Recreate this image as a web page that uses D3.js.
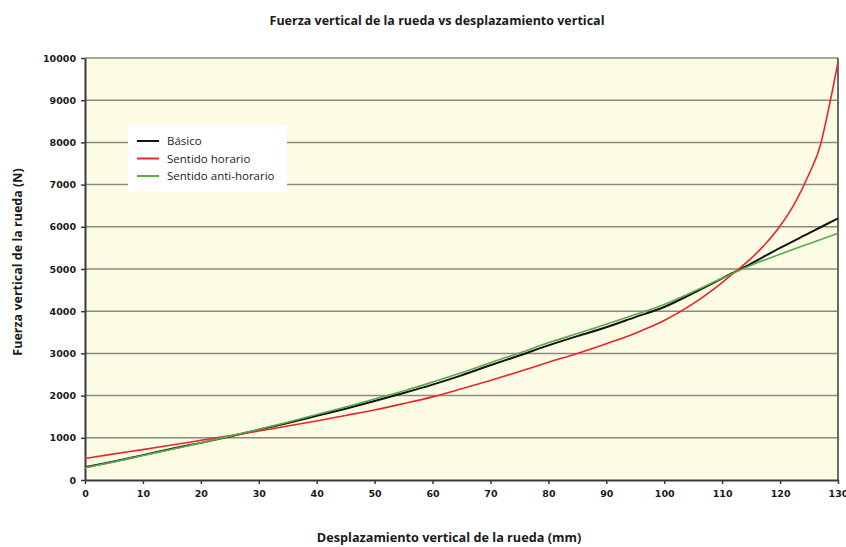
<!DOCTYPE html>
<html><head><meta charset="utf-8">
<script src="https://cdn.jsdelivr.net/npm/d3@7"></script>
<style>body{margin:0;background:#fff}</style>
</head><body>
<svg id="c" width="846" height="547"></svg>
<script>
const title = "Fuerza vertical de la rueda vs desplazamiento vertical";
const xTitle = "Desplazamiento vertical de la rueda (mm)";
const yTitle = "Fuerza vertical de la rueda (N)";
const xTicks = [0,10,20,30,40,50,60,70,80,90,100,110,120,130];
const yTicks = [0,1000,2000,3000,4000,5000,6000,7000,8000,9000,10000];
const seriesNames = ["Básico","Sentido horario","Sentido anti-horario"];
const seriesColors = ["#141414","#e8262a","#5aaa4a"];

const xBasico = [0,5,10,15,20,25,30,35,40,45,50,55,60,65,70,75,80,85,90,95,100,105,110,115,120,125,130];
const yBasico = [300,440,590,740,880,1030,1190,1350,1520,1690,1870,2060,2260,2480,2720,2950,3190,3410,3620,3860,4100,4430,4780,5130,5500,5850,6200];

const xHorario = [0,5,10,15,20,25,30,35,40,45,50,55,60,65,70,75,80,85,90,95,100,105,110,112.5,115,117.5,120,122.5,125,127,128,129,130];
const yHorario = [510,620,720,830,940,1050,1160,1280,1400,1530,1660,1810,1970,2160,2360,2570,2790,3000,3230,3480,3780,4180,4680,4960,5250,5600,6020,6550,7250,7950,8550,9200,9900];

const xAnti = [0,5,10,15,20,25,30,35,40,45,50,55,60,65,70,75,80,85,90,95,100,105,110,115,120,125,130];
const yAnti = [290,430,580,730,880,1040,1200,1370,1550,1730,1920,2110,2320,2540,2780,3010,3250,3470,3690,3920,4160,4460,4780,5090,5350,5600,5850];

const svg = d3.select("#c");
const L = 85, R = 838, T = 58, B = 480;
const x = d3.scaleLinear().domain([0,130]).range([L,R]);
const y = d3.scaleLinear().domain([0,10000]).range([B,T]);

svg.append("rect").attr("x",L).attr("y",T).attr("width",R-L).attr("height",B-T).attr("fill","#fcfbe4");

svg.append("g").selectAll("line").data(yTicks.filter(d=>d>0)).join("line")
  .attr("x1",L).attr("x2",R).attr("y1",d=>y(d)).attr("y2",d=>y(d))
  .attr("stroke","#8a8a80").attr("stroke-width",1.5);

svg.append("line").attr("x1",R).attr("x2",R).attr("y1",T).attr("y2",B).attr("stroke","#6a6a6a").attr("stroke-width",2);

const tickFont = "'DejaVu Sans', Verdana, sans-serif";
const gx = svg.append("g").attr("transform",`translate(0,${B})`)
  .call(d3.axisBottom(x).tickValues(xTicks).tickFormat(d3.format("d")).tickSize(4).tickSizeOuter(0).tickPadding(6));
const gy = svg.append("g").attr("transform",`translate(${L},0)`)
  .call(d3.axisLeft(y).tickValues(yTicks).tickFormat(d3.format("d")).tickSize(4).tickSizeOuter(0).tickPadding(5));
[gx,gy].forEach(g=>{
  g.select(".domain").attr("stroke","#3a3a3a").attr("stroke-width",2);
  g.selectAll(".tick line").attr("stroke","#3a3a3a").attr("stroke-width",1.5);
  g.selectAll("text").attr("font-family",tickFont).attr("font-weight","bold")
   .attr("font-size","9.5px").attr("fill","#1a1a1a");
});

const line = d3.line().x(d=>x(d[0])).y(d=>y(d[1])).curve(d3.curveMonotoneX);
const data = [
  d3.zip(xBasico,yBasico),
  d3.zip(xHorario,yHorario),
  d3.zip(xAnti,yAnti)
];
const widths = [2,1.6,1.6];
data.forEach((d,i)=>{
  svg.append("path").datum(d).attr("d",line)
    .attr("fill","none").attr("stroke",seriesColors[i]).attr("stroke-width",widths[i]);
});

const lg = svg.append("g");
lg.append("rect").attr("x",128).attr("y",125).attr("width",159).attr("height",67).attr("fill","#ffffff");
seriesNames.forEach((n,i)=>{
  const yy = 141 + i*17.5;
  lg.append("line").attr("x1",137).attr("x2",159).attr("y1",yy).attr("y2",yy)
    .attr("stroke",seriesColors[i]).attr("stroke-width",2);
  lg.append("text").attr("x",167).attr("y",yy+4).text(n)
    .attr("font-family","'Open Sans', sans-serif").attr("font-size","11.5px").attr("fill","#222");
});

const titleFont = "'Open Sans', 'Liberation Sans', sans-serif";
svg.append("text").attr("x",437).attr("y",25).attr("text-anchor","middle").text(title)
  .attr("font-family",titleFont).attr("font-weight","bold").attr("font-size","12.5px").attr("fill","#1a1a1a");
svg.append("text").attr("x",449).attr("y",542).attr("text-anchor","middle").text(xTitle)
  .attr("font-family",titleFont).attr("font-weight","bold").attr("font-size","12.7px").attr("fill","#1a1a1a");
svg.append("text").attr("transform","translate(22,262) rotate(-90)").attr("text-anchor","middle").text(yTitle)
  .attr("font-family",titleFont).attr("font-weight","bold").attr("font-size","12.5px").attr("fill","#1a1a1a");
</script>
</body></html>
